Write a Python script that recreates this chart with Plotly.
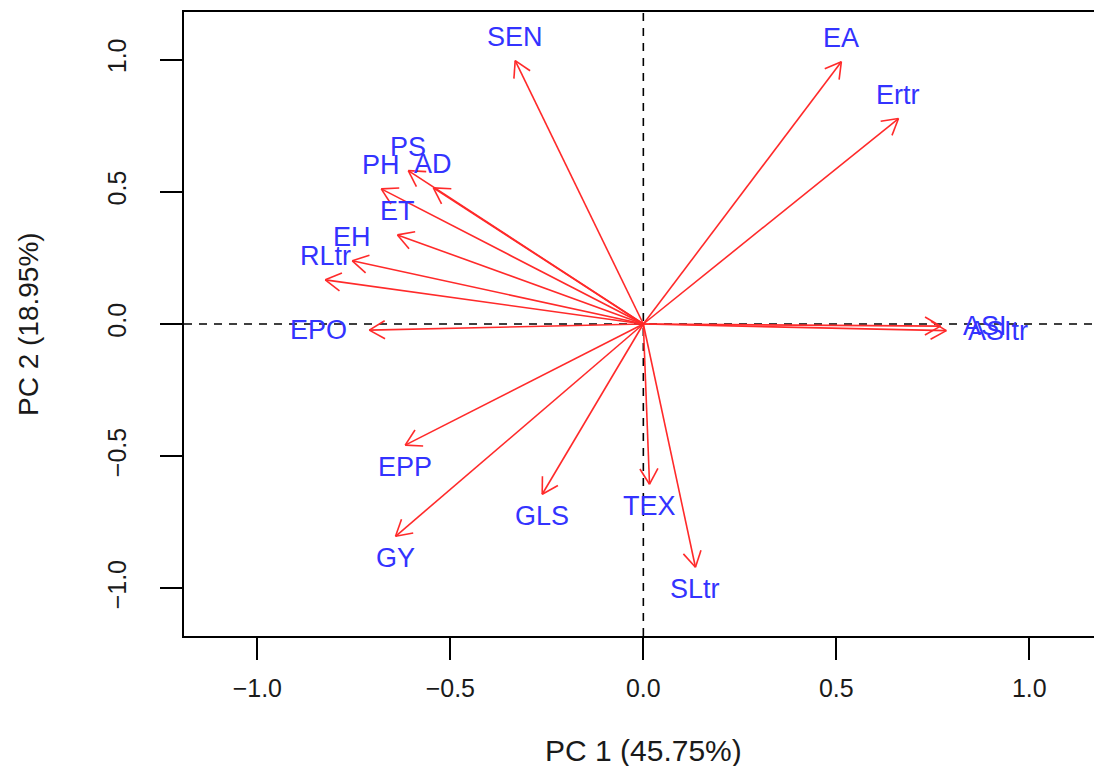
import math
import plotly.graph_objects as go

# Variable loadings (PC1, PC2)
variables = ["SEN", "EA", "Ertr", "PS", "AD", "PH", "ET", "EH", "RLtr", "EPO",
             "ASI", "ASItr", "EPP", "GY", "GLS", "TEX", "SLtr"]
pc1 = [-0.332, 0.513, 0.661, -0.609, -0.544, -0.679, -0.637, -0.754, -0.824, -0.710,
       0.770, 0.785, -0.617, -0.642, -0.262, 0.016, 0.135]
pc2 = [0.996, 0.992, 0.777, 0.580, 0.515, 0.511, 0.337, 0.239, 0.167, -0.023,
       -0.008, -0.025, -0.458, -0.803, -0.644, -0.606, -0.920]
label_side = ["above", "above", "above", "above", "above", "above", "above", "above", "above", "left",
              "right", "right", "below", "below", "below", "below", "below"]

x_title = "PC 1 (45.75%)"
y_title = "PC 2 (18.95%)"
tick_vals = [-1.0, -0.5, 0.0, 0.5, 1.0]
tick_text = ["\u22121.0", "\u22120.5", "0.0", "0.5", "1.0"]

W, H = 1094, 766
ML, MR, MT, MB = 184, 0, 12, 130
xmin, ymin, ymax = -1.19, -1.18, 1.18
plot_w = W - ML - MR
plot_h = H - MT - MB
px_per_x = 386.0
xmax = xmin + plot_w / px_per_x
px_per_y = plot_h / (ymax - ymin)

FONT = "Liberation Sans, Arial, Helvetica, sans-serif"
RED = "#ff2a2a"
BLUE = "#3333ff"

# Arrow shafts and open heads, computed from the loadings in screen space
hx, hy = [], []
L = 18.0
ang = math.radians(30)
for x, y in zip(pc1, pc2):
    hx += [0, x, None]
    hy += [0, y, None]
    u, v = x * px_per_x, y * px_per_y
    n = math.hypot(u, v)
    du, dv = u / n, v / n
    for s in (1, -1):
        ru = du * math.cos(s * ang) - dv * math.sin(s * ang)
        rv = du * math.sin(s * ang) + dv * math.cos(s * ang)
        hx += [x - L * ru / px_per_x, x, None]
        hy += [y - L * rv / px_per_y, y, None]

fig = go.Figure()
# dashed reference lines
fig.add_shape(type="line", xref="x", yref="y", x0=xmin, x1=xmax, y0=0, y1=0,
              line=dict(color="black", width=1.6, dash="8px,7px"), layer="below")
fig.add_shape(type="line", xref="x", yref="y", x0=0, x1=0, y0=ymin, y1=ymax,
              line=dict(color="black", width=1.6, dash="8px,7px"), layer="below")

fig.add_trace(go.Scatter(x=hx, y=hy, mode="lines",
                         line=dict(color=RED, width=1.6), hoverinfo="skip",
                         showlegend=False))

for name, x, y, side in zip(variables, pc1, pc2, label_side):
    kw = dict(xanchor="center", yanchor="middle", xshift=0, yshift=0)
    if side == "above":
        kw["yshift"] = 24
    elif side == "below":
        kw["yshift"] = -22
    elif side == "left":
        kw["xanchor"] = "right"
        kw["xshift"] = -20
    else:
        kw["xanchor"] = "left"
        kw["xshift"] = 20
    fig.add_annotation(x=x, y=y, xref="x", yref="y", text=name, showarrow=False,
                       font=dict(family=FONT, size=27, color=BLUE), **kw)

fig.add_annotation(x=0.5 * (xmin + xmax) + (643 - (ML + plot_w / 2)) / px_per_x, y=0,
                   xref="x", yref="paper", yshift=-(750 - (H - MB)), text=x_title,
                   showarrow=False, xanchor="center", yanchor="middle",
                   font=dict(family=FONT, size=30, color="#1a1a1a"))
fig.add_annotation(x=0, y=0, xref="paper", yref="y", xshift=-(ML - 28), text=y_title,
                   showarrow=False, textangle=-90, xanchor="center", yanchor="middle",
                   font=dict(family=FONT, size=28, color="#1a1a1a"))

fig.update_layout(
    width=W, height=H,
    margin=dict(l=ML, r=MR, t=MT, b=MB, pad=0),
    paper_bgcolor="white", plot_bgcolor="white",
    showlegend=False,
    xaxis=dict(range=[xmin, xmax], showgrid=False, zeroline=False,
               showline=True, linecolor="black", linewidth=1.6, mirror=True,
               ticks="outside", ticklen=22, tickwidth=1.5, tickcolor="black",
               tickvals=tick_vals, ticktext=tick_text, ticklabelstandoff=7,
               tickfont=dict(family=FONT, size=25, color="#1a1a1a")),
    yaxis=dict(range=[ymin, ymax], showgrid=False, zeroline=False,
               showline=True, linecolor="black", linewidth=1.6, mirror=False,
               ticks="outside", ticklen=22, tickwidth=1.5, tickcolor="black",
               tickvals=tick_vals, ticktext=tick_text, tickangle=-90,
               ticklabelstandoff=24,
               tickfont=dict(family=FONT, size=25, color="#1a1a1a")),
)

fig.write_html("out.html",
               config={"displayModeBar": False},
               post_script="document.body.style.margin='0';"
                           "document.body.style.overflow='hidden';")
